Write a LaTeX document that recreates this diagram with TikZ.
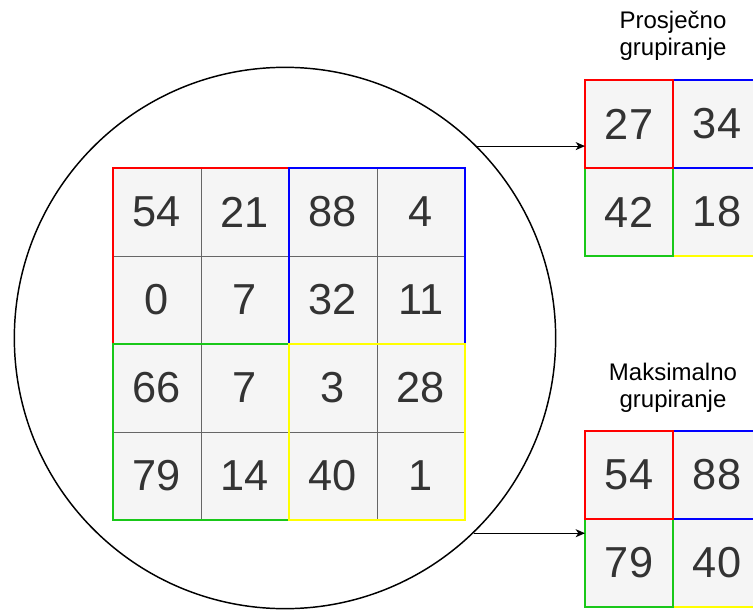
\documentclass[tikz,border=0pt]{standalone}
\usepackage{fontspec}
\setmainfont{Liberation Sans}
\usetikzlibrary{arrows.meta}
\definecolor{txt}{HTML}{333333}
\definecolor{cellfill}{HTML}{F5F5F5}
\definecolor{gridline}{HTML}{666666}
\definecolor{cred}{HTML}{FF0000}
\definecolor{cblue}{HTML}{0000FF}
\definecolor{cgreen}{HTML}{19C819}
\definecolor{cyellow}{HTML}{FFFF00}
\tikzset{
  cell/.style={draw=gridline, line width=0.75pt, fill=cellfill, minimum size=66pt, inner sep=0pt, outer sep=0pt, text=txt, font=\fontsize{32.5}{36}\selectfont},
  block/.style={line width=1.5pt},
  lbl/.style={align=center, font=\fontsize{18}{20}\selectfont, text=black},
  conn/.style={line width=0.75pt, -{Stealth[length=7pt,width=6pt,inset=2pt]}},
}
\begin{document}
\begin{tikzpicture}[x=0.75pt,y=-0.75pt]
\useasboundingbox (0,0) rectangle (753,610);
% big circle
\node[draw, circle, line width=1.1pt, minimum size=406pt, inner sep=0pt] (circ) at (285,338) {};
% main 4x4 grid
\foreach \r/\vals in {1/{54,21,88,4},2/{0,7,32,11},3/{66,7,3,28},4/{79,14,40,1}}{
  \foreach \v [count=\c] in \vals {
    \node[cell] (m\r\c) at ({113+88*\c-44},{168+88*\r-44}) {\v};
  }
}
\draw[block, cred] (113,168) -- (289,168) -- (289,344) -- (113,344) -- cycle;
\draw[block, cblue] (289,168) -- (465,168) -- (465,344) -- (289,344) -- cycle;
\draw[block, cgreen] (113,344) -- (289,344) -- (289,520) -- (113,520) -- cycle;
\draw[block, cyellow] (289,344) -- (465,344) -- (465,520) -- (289,520) -- cycle;
% average pooling
\node[cell] (p11) at (629,124) {27};
\node[cell] (p12) at (717,124) {34};
\node[cell] (p21) at (629,212) {42};
\node[cell] (p22) at (717,212) {18};
\draw[block, cyellow] (673,168) -- (761,168) -- (761,256) -- (673,256) -- cycle;
\draw[block, cblue] (673,80) -- (761,80) -- (761,168) -- (673,168) -- cycle;
\draw[block, cgreen] (585,168) -- (673,168) -- (673,256) -- (585,256) -- cycle;
\draw[block, cred] (585,80) -- (673,80) -- (673,168) -- (585,168) -- cycle;
\node[lbl] (lblP) at (673,36) {Prosječno\\grupiranje};
% max pooling
\node[cell] (x11) at (629,475) {54};
\node[cell] (x12) at (717,475) {88};
\node[cell] (x21) at (629,563) {79};
\node[cell] (x22) at (717,563) {40};
\draw[block, cyellow] (673,519) -- (761,519) -- (761,607) -- (673,607) -- cycle;
\draw[block, cblue] (673,431) -- (761,431) -- (761,519) -- (673,519) -- cycle;
\draw[block, cgreen] (585,519) -- (673,519) -- (673,607) -- (585,607) -- cycle;
\draw[block, cred] (585,431) -- (673,431) -- (673,519) -- (585,519) -- cycle;
\node[lbl] (lblM) at (673,388) {Maksimalno\\grupiranje};
% arrows
\draw[conn] (circ.45) -- (circ.45 -| p11.west);
\draw[conn] (circ.-46) -- (circ.-46 -| x21.west);
\end{tikzpicture}
\end{document}
